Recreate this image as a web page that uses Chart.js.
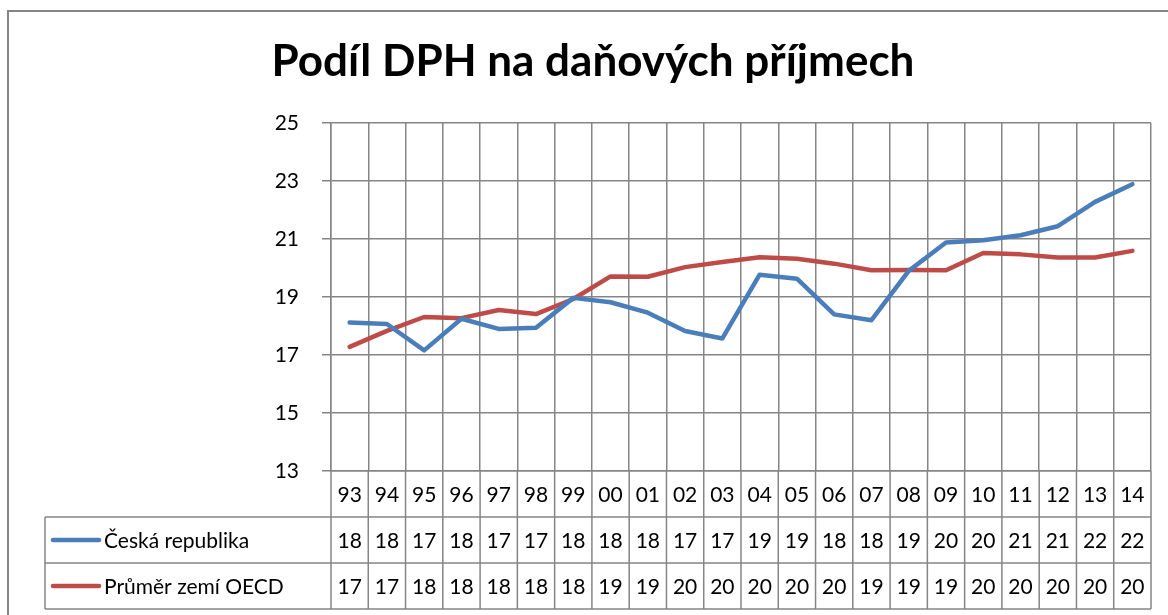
<!DOCTYPE html>
<html>
<head>
<meta charset="utf-8">
<script src="https://cdn.jsdelivr.net/npm/chart.js@4/dist/chart.umd.min.js"></script>
<style>
  html, body { margin: 0; padding: 0; background: #fff; }
  #wrap { width: 1168px; height: 615px; }
</style>
</head>
<body>
<div id="wrap"><canvas id="dphChart" width="1168" height="615"></canvas></div>
<script>
var nadpis = 'Podíl DPH na daňových příjmech';
var roky = ['93','94','95','96','97','98','99','00','01','02','03','04','05','06','07','08','09','10','11','12','13','14'];
var ceskaRepublika = [18.12, 18.07, 17.16, 18.25, 17.9, 17.94, 18.97, 18.82, 18.46, 17.83, 17.57,
                      19.77, 19.63, 18.4, 18.2, 19.9, 20.88, 20.96, 21.13, 21.44, 22.28, 22.89];
var prumerOECD = [17.28, 17.83, 18.31, 18.27, 18.55, 18.41, 18.93, 19.71, 19.7, 20.03, 20.21,
                  20.37, 20.32, 20.15, 19.92, 19.93, 19.92, 20.52, 20.47, 20.36, 20.36, 20.59];
var osaY = [13, 15, 17, 19, 21, 23, 25];

const font = 'Lato, "Open Sans", sans-serif';
const mrizka = '#858585';

// tabulka s daty pod grafem (jako v Excelu)
const tabulka = {
    id: 'tabulka',
    afterDraw(chart) {
        const ctx = chart.ctx;
        const area = chart.chartArea;
        const x = chart.scales.x;
        const sirka = (area.right - area.left) / roky.length;
        const r0 = area.bottom, r1 = r0 + 46, r2 = r1 + 46, r3 = r2 + 46;
        const levy = 45;

        ctx.save();
        ctx.strokeStyle = mrizka;
        ctx.lineWidth = 1.5;
        ctx.beginPath();
        for (let i = 0; i <= roky.length; i++) {
            const px = area.left + i * sirka;
            ctx.moveTo(px, r0);
            ctx.lineTo(px, r3);
        }
        [r1, r2, r3].forEach(y => {
            ctx.moveTo(levy, y);
            ctx.lineTo(area.right, y);
        });
        ctx.moveTo(levy, r1);
        ctx.lineTo(levy, r3);
        ctx.stroke();

        ctx.fillStyle = '#000';
        ctx.font = '21px ' + font;
        ctx.textAlign = 'center';
        ctx.textBaseline = 'middle';
        roky.forEach((rok, i) => {
            const px = x.getPixelForValue(i);
            ctx.fillText(rok, px, (r0 + r1) / 2 + 1);
            ctx.fillText(Math.floor(ceskaRepublika[i]), px, (r1 + r2) / 2 + 1);
            ctx.fillText(Math.floor(prumerOECD[i]), px, (r2 + r3) / 2 + 1);
        });

        chart.data.datasets.forEach((ds, k) => {
            const y = k == 0 ? (r1 + r2) / 2 : (r2 + r3) / 2;
            ctx.strokeStyle = ds.borderColor;
            ctx.lineWidth = 4.5;
            ctx.lineCap = 'round';
            ctx.beginPath();
            ctx.moveTo(53, y);
            ctx.lineTo(99, y);
            ctx.stroke();
            ctx.textAlign = 'left';
            ctx.fillText(ds.label, 104, y + 1);
        });

        // nadpis a ramecek
        ctx.font = 'bold 44px ' + font;
        ctx.textAlign = 'center';
        ctx.textBaseline = 'alphabetic';
        ctx.fillText(nadpis, 593, 76);

        ctx.strokeStyle = mrizka;
        ctx.lineWidth = 2;
        ctx.beginPath();
        ctx.moveTo(8, 615);
        ctx.lineTo(8, 11);
        ctx.lineTo(1168, 11);
        ctx.stroke();
        ctx.restore();
    }
};

new Chart(document.getElementById('dphChart'), {
    type: 'line',
    data: {
        labels: roky,
        datasets: [
            {
                label: 'Česká republika',
                data: ceskaRepublika,
                borderColor: '#4a7ebb',
                backgroundColor: '#4a7ebb',
                borderWidth: 4.5,
                borderCapStyle: 'round',
                borderJoinStyle: 'round',
                pointRadius: 0,
                tension: 0,
                fill: false
            },
            {
                label: 'Průměr zemí OECD',
                data: prumerOECD,
                borderColor: '#be4b48',
                backgroundColor: '#be4b48',
                borderWidth: 4.5,
                borderCapStyle: 'round',
                borderJoinStyle: 'round',
                pointRadius: 0,
                tension: 0,
                fill: false
            }
        ]
    },
    options: {
        responsive: false,
        animation: false,
        layout: { padding: { top: 123, right: 17, bottom: 144, left: 0 } },
        plugins: {
            legend: { display: false },
            title: { display: false },
            tooltip: { enabled: false }
        },
        scales: {
            x: {
                offset: true,
                grid: { offset: true, color: mrizka, lineWidth: 1.5, drawTicks: false },
                border: { color: mrizka, width: 1.5 },
                ticks: { display: false }
            },
            y: {
                min: 13,
                max: 25,
                afterFit: s => { s.width = 331; },
                afterBuildTicks: s => { s.ticks = osaY.map(v => ({ value: v })); },
                grid: { color: mrizka, lineWidth: 1.5, tickLength: 9 },
                border: { color: mrizka, width: 1.5 },
                ticks: { color: '#000', font: { family: font, size: 21 }, padding: 23 }
            }
        }
    },
    plugins: [tabulka]
});
</script>
</body>
</html>
